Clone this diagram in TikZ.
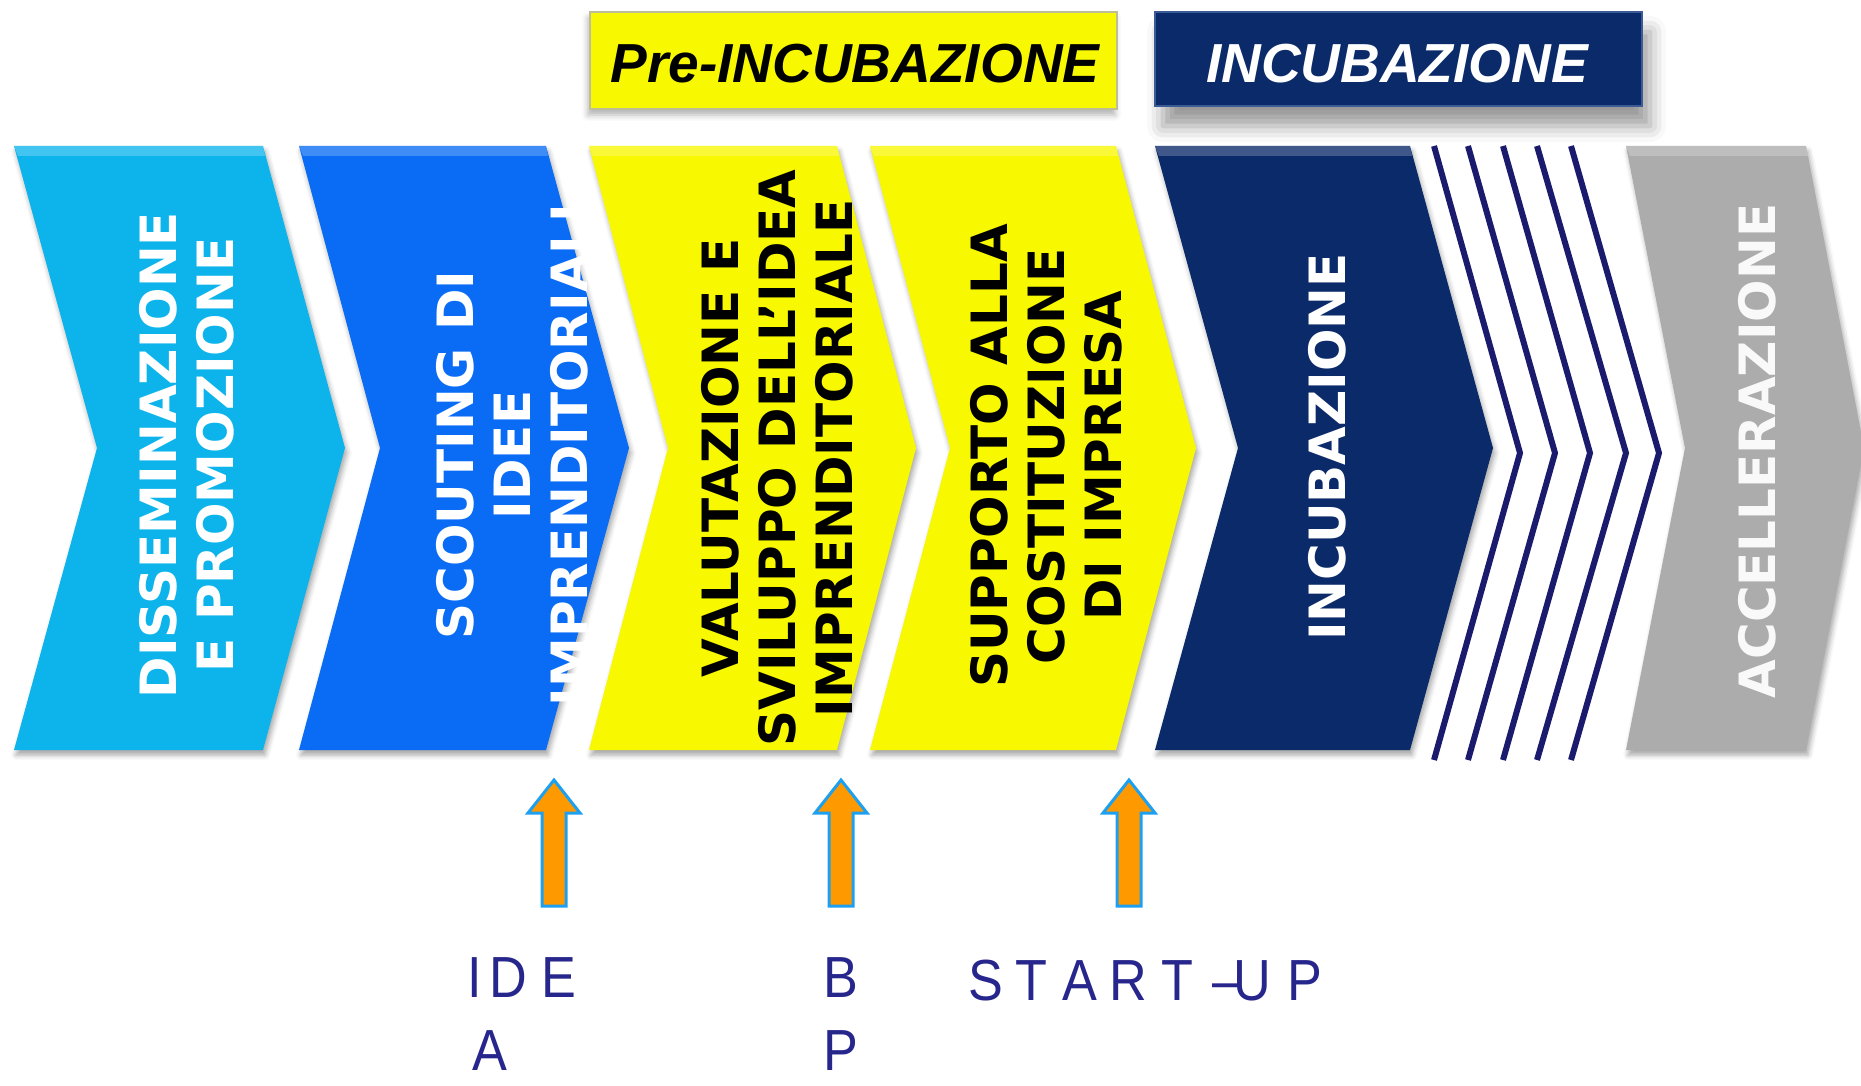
\documentclass[tikz,border=0pt]{standalone}
\usepackage{fontspec}
\setmainfont{Liberation Sans}
\newfontfamily\dvfont{DejaVu Sans}
\newfontfamily\labfont{Liberation Sans}[FakeStretch=0.9]
\usetikzlibrary{shadows.blur}
\definecolor{cyanC}{RGB}{12,180,235}
\definecolor{blueC}{RGB}{10,108,245}
\definecolor{yelC}{RGB}{248,248,0}
\definecolor{navyC}{RGB}{11,42,105}
\definecolor{grayC}{RGB}{172,172,172}
\definecolor{stripeC}{RGB}{27,27,110}
\definecolor{labC}{RGB}{38,38,140}
\definecolor{arrowFill}{RGB}{255,153,0}
\definecolor{arrowLine}{RGB}{30,160,240}
\definecolor{navyBorder}{RGB}{60,90,150}
\definecolor{yelBorder}{RGB}{190,190,150}
\tikzset{
  chevshadow/.style={blur shadow={shadow xshift=2pt, shadow yshift=-5pt, shadow blur radius=5pt, shadow opacity=35}},
  ctext/.style={rotate=90, align=center, inner sep=0pt, font=\dvfont\bfseries\fontsize{50}{57}\selectfont},
  boxtext/.style={anchor=base, inner sep=0pt, font=\bfseries\itshape\fontsize{55}{60}\selectfont},
  labsty/.style={anchor=base west, inner sep=0pt, text=labC, font=\labfont\fontsize{58}{60}\selectfont},
  arrowsty/.style={fill=arrowFill, draw=arrowLine, line width=3pt, line join=miter},
  stripesty/.style={draw=stripeC, line width=6pt, line join=miter},
  bevel/.style={fill=white, opacity=0.22}
}
\newcommand\mychev[5]{% L, TR, tip offset, notch depth, colour
  \fill[#5, chevshadow] (#1,146) -- (#2,146) -- ({#2+#3},448) -- (#2,750) -- (#1,750) -- ({#1+#4},448) -- cycle;
  \fill[bevel] (#1,146) -- (#2,146) -- ({#2+2},156) -- ({#1+4},156) -- cycle;
}
\begin{document}
\begin{tikzpicture}[x=1pt,y=-1pt]
\useasboundingbox (0,0) rectangle (1861,1086);
% chevrons
\mychev{14}{263}{82}{83}{cyanC}
\mychev{299}{546}{83}{81}{blueC}
\mychev{589}{837}{79}{79}{yelC}
\mychev{870}{1116}{80}{80}{yelC}
\mychev{1155}{1410}{83}{83}{navyC}
\mychev{1626}{1806}{58}{59}{grayC}
% stripes
\foreach \t/\p in {1434/1520,1468/1555,1503/1590,1537/1626,1571/1659}
  \draw[stripesty] (\t,146) -- (\p,453) -- (\t,760);
% chevron texts
\node[ctext, text=white] (t1) at (187,455) {DISSEMINAZIONE\\E PROMOZIONE};
\begin{scope}
  \clip (290,201) rectangle (600,709);
  \node[ctext, text=white] (t2) at (512,455) {SCOUTING DI\\IDEE\\IMPRENDITORIALI};
\end{scope}
\node[ctext, text=black] (t3) at (777,458) {VALUTAZIONE E\\SVILUPPO DELL’IDEA\\IMPRENDITORIALE};
\node[ctext, text=black] (t4) at (1046,456) {SUPPORTO ALLA\\COSTITUZIONE\\DI IMPRESA};
\node[ctext, text=white] (t5) at (1327,447) {INCUBAZIONE};
\node[ctext, text=white!95!gray] (t6) at (1757,451) {ACCELLERAZIONE};
% top boxes
\node[fill=yelC, draw=yelBorder, line width=1.5pt, minimum width=527pt, minimum height=97pt, inner sep=0pt,
      blur shadow={shadow xshift=-2pt, shadow yshift=-6pt, shadow blur radius=6pt, shadow opacity=30}] (prebox) at (853.5,60.5) {};
\node[boxtext, text=black] (pretext) at (855,83) {Pre-INCUBAZIONE};
\node[fill=navyC, draw=navyBorder, line width=2pt, minimum width=487pt, minimum height=94pt, inner sep=0pt,
      blur shadow={shadow xshift=8pt, shadow yshift=-20pt, shadow blur radius=16pt, shadow opacity=40}] (incbox) at (1398.5,59) {};
\node[boxtext, text=white] (inctext) at (1397,83) {INCUBAZIONE};
% arrows
\foreach \c in {554,841,1129}
  \draw[arrowsty] (\c,780) -- ({\c+26},813) -- ({\c+12},813) -- ({\c+12},906) -- ({\c-12},906) -- ({\c-12},813) -- ({\c-26},813) -- cycle;
% labels
\node[labsty] (ide) at (467,997) {I\kern8pt D\kern14pt E};
\node[labsty] (ideA) at (472,1070) {A};
\node[labsty] (bpB) at (823,997) {B};
\node[labsty] (bpP) at (823,1070) {P};
\node[labsty] (start) at (968.6,1000.6) {S\kern12pt T\kern15pt A\kern12pt R\kern14pt T\kern20pt –\kern-8pt U\kern16pt P};
\end{tikzpicture}
\end{document}
